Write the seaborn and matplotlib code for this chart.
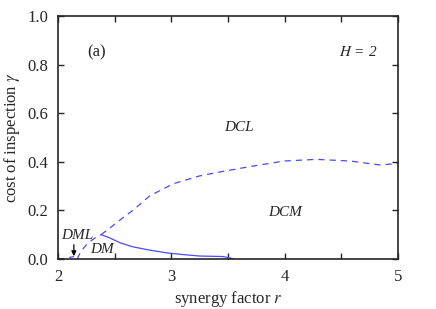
import numpy as np
import pandas as pd
import seaborn as sns
import matplotlib.pyplot as plt
from matplotlib.ticker import MultipleLocator

# phase boundaries
upper_r = [2.38, 2.46, 2.56, 2.66, 2.81, 3.02, 3.25, 3.45, 3.69, 3.99, 4.28, 4.58, 4.84, 5.0]
upper_g = [0.100, 0.128, 0.165, 0.200, 0.260, 0.310, 0.342, 0.360, 0.380, 0.403, 0.410, 0.403, 0.387, 0.393]

rise_r = [2.17, 2.20, 2.25, 2.30, 2.34, 2.38]
rise_g = [0.000, 0.030, 0.058, 0.078, 0.090, 0.100]

dml_r = [2.00, 2.05, 2.10, 2.14]
dml_g = [0.000, 0.002, 0.006, 0.010]

lower_r = [2.38, 2.45, 2.55, 2.66, 2.80, 2.96, 3.10, 3.25, 3.45, 3.50, 3.55]
lower_g = [0.100, 0.088, 0.066, 0.050, 0.037, 0.025, 0.018, 0.012, 0.010, 0.006, 0.000]

blue = "#4a4aff"

sns.set_style("ticks")
plt.rcParams["font.family"] = ["Liberation Serif", "DejaVu Serif"]
plt.rcParams["mathtext.fontset"] = "stix"

fig = plt.figure(figsize=(4.36, 3.09), dpi=100)
ax = fig.add_axes([0.133, 0.162, 0.780, 0.786])

for xs, ys, ls in [(upper_r, upper_g, "--"), (rise_r, rise_g, "--"),
                   (dml_r, dml_g, "--"), (lower_r, lower_g, "-")]:
    df = pd.DataFrame({"r": xs, "g": ys})
    line = sns.lineplot(data=df, x="r", y="g", sort=False, estimator=None,
                        color=blue, linewidth=0.9, linestyle=ls, ax=ax).lines[-1]
    if ls == "--":
        line.set_dashes((5, 4))

ax.set_xlim(2, 5)
ax.set_ylim(0, 1)
ax.xaxis.set_major_locator(MultipleLocator(1))
ax.xaxis.set_minor_locator(MultipleLocator(0.5))
ax.yaxis.set_major_locator(MultipleLocator(0.2))
ax.yaxis.set_major_formatter(plt.FormatStrFormatter("%.1f"))
ax.tick_params(which="both", direction="in", top=True, right=True,
               labelsize=12, length=4, width=1, pad=7)
ax.tick_params(which="minor", length=4)
for s in ax.spines.values():
    s.set_linewidth(1.2)

ax.set_xlabel("synergy factor $r$", fontsize=12, labelpad=3)
ax.set_ylabel("cost of inspection $\\gamma$", fontsize=12, labelpad=4)

ax.text(2.34, 0.85, "(a)", fontsize=12, ha="center", va="center")
ax.text(4.65, 0.85, "$H$ = 2", fontsize=11, ha="center", va="center", style="italic")
ax.text(3.6, 0.54, "DCL", fontsize=11, ha="center", va="center", style="italic")
ax.text(4.0, 0.19, "DCM", fontsize=11, ha="center", va="center", style="italic")
ax.text(2.17, 0.095, "DML", fontsize=11, ha="center", va="center", style="italic")
ax.text(2.39, 0.04, "DM", fontsize=11, ha="center", va="center", style="italic")
ax.annotate("", xy=(2.14, 0.0), xytext=(2.14, 0.07),
            arrowprops=dict(arrowstyle="-|>", color="black", lw=0.9,
                            mutation_scale=7))

fig.savefig("out.png", dpi=100)
